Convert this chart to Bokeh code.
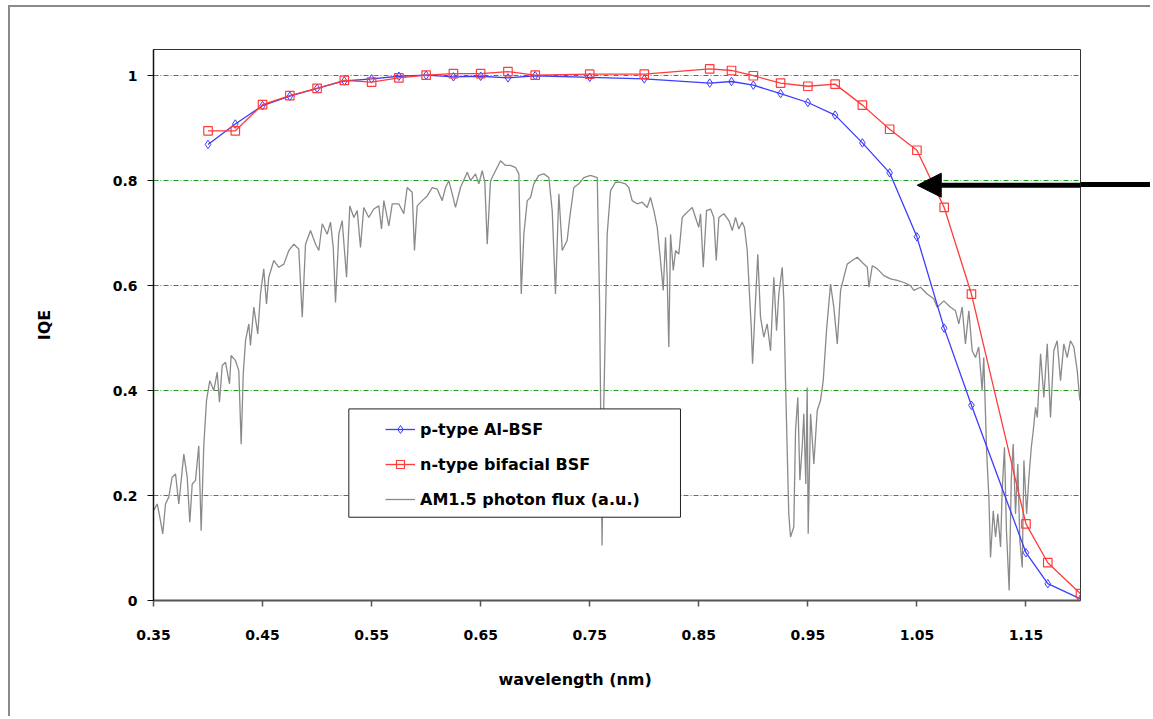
from bokeh.plotting import figure
from bokeh.models import (Range1d, FixedTicker, Legend, LegendItem, BoxAnnotation,
                          Arrow, NormalHead, Title)
from bokeh.embed import file_html
from bokeh.resources import INLINE

# ---------------- data ----------------
iqe_wl = [0.40, 0.425, 0.45, 0.475, 0.50, 0.525, 0.55, 0.575, 0.60, 0.625,
          0.65, 0.675, 0.70, 0.75, 0.80, 0.86, 0.88, 0.90, 0.925, 0.95,
          0.975, 1.00, 1.025, 1.05, 1.075, 1.10, 1.15, 1.17, 1.20]
iqe_p_type = [0.869, 0.908, 0.943, 0.961, 0.976, 0.990, 0.994, 0.999, 1.001, 0.998,
              0.999, 0.996, 1.000, 0.997, 0.994, 0.986, 0.989, 0.982, 0.966, 0.949,
              0.925, 0.872, 0.815, 0.693, 0.519, 0.372, 0.091, 0.032, 0.003]
iqe_n_type = [0.895, 0.895, 0.945, 0.962, 0.976, 0.991, 0.988, 0.996, 1.001, 1.004,
              1.004, 1.008, 1.001, 1.003, 1.003, 1.013, 1.010, 1.000, 0.986, 0.980,
              0.984, 0.944, 0.898, 0.858, 0.749, 0.584, 0.146, 0.072, 0.013]

spec_wl = [
    0.3500, 0.3534, 0.3558, 0.3585, 0.3610, 0.3640, 0.3671, 0.3702, 0.3732, 0.3778,
    0.3809, 0.3833, 0.3855, 0.3885, 0.3915, 0.3937, 0.3961, 0.3986, 0.4016, 0.4053,
    0.4084, 0.4105, 0.4130, 0.4160, 0.4197, 0.4212, 0.4252, 0.4282, 0.4304, 0.4323,
    0.4344, 0.4374, 0.4389, 0.4420, 0.4456, 0.4481, 0.4511, 0.4536, 0.4557, 0.4603,
    0.4649, 0.4695, 0.4741, 0.4787, 0.4832, 0.4864, 0.4894, 0.4940, 0.4986, 0.5016,
    0.5047, 0.5093, 0.5123, 0.5148, 0.5169, 0.5199, 0.5230, 0.5270, 0.5300, 0.5337,
    0.5368, 0.5398, 0.5428, 0.5474, 0.5520, 0.5566, 0.5591, 0.5612, 0.5658, 0.5689,
    0.5749, 0.5795, 0.5826, 0.5872, 0.5893, 0.5918, 0.5964, 0.6010, 0.6056, 0.6101,
    0.6147, 0.6178, 0.6208, 0.6239, 0.6269, 0.6315, 0.6377, 0.6407, 0.6453, 0.6483,
    0.6514, 0.6538, 0.6560, 0.6590, 0.6636, 0.6682, 0.6728, 0.6774, 0.6820, 0.6850,
    0.6872, 0.6896, 0.6927, 0.6957, 0.6987, 0.7033, 0.7079, 0.7125, 0.7156, 0.7186,
    0.7217, 0.7248, 0.7293, 0.7317, 0.7354, 0.7400, 0.7446, 0.7507, 0.7569, 0.7590,
    0.7613, 0.7629, 0.7660, 0.7691, 0.7736, 0.7782, 0.7828, 0.7858, 0.7889, 0.7935,
    0.7981, 0.8027, 0.8057, 0.8088, 0.8119, 0.8149, 0.8174, 0.8195, 0.8210, 0.8225,
    0.8241, 0.8266, 0.8287, 0.8317, 0.8348, 0.8379, 0.8409, 0.8440, 0.8470, 0.8500,
    0.8516, 0.8541, 0.8571, 0.8608, 0.8638, 0.8660, 0.8684, 0.8730, 0.8776, 0.8807,
    0.8837, 0.8867, 0.8898, 0.8919, 0.8944, 0.8968, 0.8981, 0.8993, 0.9020, 0.9041,
    0.9066, 0.9096, 0.9127, 0.9158, 0.9188, 0.9213, 0.9234, 0.9265, 0.9280, 0.9295,
    0.9325, 0.9341, 0.9371, 0.9387, 0.9408, 0.9427, 0.9448, 0.9463, 0.9481, 0.9494,
    0.9503, 0.9525, 0.9555, 0.9586, 0.9616, 0.9641, 0.9671, 0.9708, 0.9738, 0.9770,
    0.9800, 0.9830, 0.9861, 0.9907, 0.9953, 0.9999, 1.0045, 1.0060, 1.0091, 1.0137,
    1.0197, 1.0259, 1.0320, 1.0380, 1.0441, 1.0472, 1.0533, 1.0594, 1.0655, 1.0686,
    1.0747, 1.0808, 1.0854, 1.0884, 1.0915, 1.0945, 1.0976, 1.1007, 1.1037, 1.1067,
    1.1098, 1.1113, 1.1139, 1.1160, 1.1175, 1.1200, 1.1221, 1.1242, 1.1267, 1.1282,
    1.1303, 1.1321, 1.1346, 1.1365, 1.1383, 1.1404, 1.1425, 1.1444, 1.1466, 1.1481,
    1.1506, 1.1527, 1.1549, 1.1567, 1.1588, 1.1604, 1.1634, 1.1664, 1.1695, 1.1725,
    1.1755, 1.1786, 1.1817, 1.1847, 1.1878, 1.1908, 1.1939, 1.1970, 1.1994]
spec_flux = [
    0.171, 0.184, 0.159, 0.127, 0.184, 0.197, 0.235, 0.241, 0.184, 0.279,
    0.235, 0.149, 0.222, 0.229, 0.295, 0.133, 0.295, 0.381, 0.419, 0.400,
    0.435, 0.378, 0.448, 0.454, 0.413, 0.467, 0.457, 0.438, 0.298, 0.432,
    0.495, 0.527, 0.486, 0.559, 0.508, 0.584, 0.632, 0.565, 0.616, 0.648,
    0.635, 0.641, 0.667, 0.679, 0.670, 0.540, 0.679, 0.705, 0.679, 0.667,
    0.718, 0.698, 0.721, 0.673, 0.568, 0.698, 0.724, 0.616, 0.752, 0.730,
    0.743, 0.673, 0.749, 0.730, 0.746, 0.752, 0.708, 0.762, 0.714, 0.756,
    0.756, 0.737, 0.787, 0.778, 0.667, 0.752, 0.762, 0.771, 0.787, 0.784,
    0.762, 0.787, 0.800, 0.775, 0.749, 0.787, 0.816, 0.800, 0.813, 0.794,
    0.819, 0.797, 0.679, 0.800, 0.819, 0.838, 0.829, 0.829, 0.825, 0.813,
    0.584, 0.698, 0.762, 0.768, 0.794, 0.810, 0.813, 0.806, 0.743, 0.584,
    0.775, 0.667, 0.686, 0.730, 0.787, 0.794, 0.806, 0.810, 0.806, 0.571,
    0.105, 0.375, 0.698, 0.781, 0.797, 0.797, 0.794, 0.787, 0.762, 0.756,
    0.759, 0.749, 0.768, 0.743, 0.711, 0.648, 0.591, 0.692, 0.616, 0.483,
    0.698, 0.629, 0.667, 0.660, 0.730, 0.737, 0.743, 0.749, 0.730, 0.711,
    0.737, 0.635, 0.743, 0.746, 0.730, 0.648, 0.730, 0.737, 0.724, 0.705,
    0.730, 0.708, 0.721, 0.711, 0.667, 0.571, 0.521, 0.451, 0.571, 0.660,
    0.540, 0.502, 0.527, 0.476, 0.616, 0.514, 0.584, 0.635, 0.571, 0.419,
    0.165, 0.121, 0.140, 0.324, 0.387, 0.229, 0.292, 0.356, 0.222, 0.406,
    0.127, 0.356, 0.260, 0.362, 0.381, 0.419, 0.514, 0.603, 0.559, 0.489,
    0.591, 0.616, 0.641, 0.648, 0.654, 0.644, 0.635, 0.597, 0.638, 0.632,
    0.619, 0.613, 0.610, 0.606, 0.600, 0.591, 0.597, 0.584, 0.575, 0.559,
    0.571, 0.559, 0.552, 0.527, 0.559, 0.489, 0.552, 0.476, 0.463, 0.483,
    0.400, 0.463, 0.286, 0.197, 0.082, 0.171, 0.121, 0.165, 0.102, 0.210,
    0.292, 0.133, 0.019, 0.229, 0.298, 0.165, 0.260, 0.114, 0.063, 0.267,
    0.165, 0.235, 0.292, 0.324, 0.368, 0.349, 0.470, 0.387, 0.489, 0.349,
    0.476, 0.495, 0.419, 0.489, 0.463, 0.495, 0.483, 0.438, 0.381]

x_ticks = [0.35, 0.45, 0.55, 0.65, 0.75, 0.85, 0.95, 1.05, 1.15]
x_tick_labels = ["0.35", "0.45", "0.55", "0.65", "0.75", "0.85", "0.95", "1.05", "1.15"]
y_ticks = [0, 0.2, 0.4, 0.6, 0.8, 1.0]
y_tick_labels = ["0", "0.2", "0.4", "0.6", "0.8", "1"]

series_names = ["p-type Al-BSF", "n-type bifacial BSF", "AM1.5 photon flux (a.u.)"]

# ---------------- figure ----------------
FONT = "DejaVu Sans"
p = figure(width=1142, height=711, output_backend="svg", toolbar_location=None,
           x_range=Range1d(0.35, 1.2), y_range=Range1d(0, 1.05),
           min_border_left=143, min_border_right=72, min_border_top=42,
           min_border_bottom=118)
p.margin = (5, 0, 0, 8)
# outer chart-area border (left/top visible) and the tail of the pointer arrow
# that runs past the plot frame to the window edge
p.styles = {
    "border-left": "2px solid #8a8a8a",
    "border-top": "2px solid #8a8a8a",
    "background": "linear-gradient(#000, #000) no-repeat 1068px 175px / 74px 5px, #ffffff",
}
p.border_fill_alpha = 0
p.outline_line_color = "#333333"
p.outline_line_width = 1
p.background_fill_color = "white"

# axes
for ax in (p.xaxis[0], p.yaxis[0]):
    ax.minor_tick_line_color = None
    ax.major_tick_in = 0
    ax.major_tick_out = 6
    ax.major_label_text_font = FONT
    ax.major_label_text_font_style = "bold"
    ax.major_label_text_font_size = "14px"
    ax.major_label_text_color = "black"
    ax.axis_label_text_font = FONT
    ax.axis_label_text_font_style = "bold"
    ax.axis_label_text_font_size = "16px"
    ax.axis_label_text_color = "black"

p.xaxis.ticker = FixedTicker(ticks=x_ticks)
p.xaxis.major_label_overrides = dict(zip(x_ticks, x_tick_labels))
p.xaxis.axis_line_color = "#555555"
p.xaxis.axis_line_width = 2
p.xaxis.major_tick_line_color = "#555555"
p.xaxis.major_tick_line_width = 1.5
p.xaxis.major_label_standoff = 23

p.yaxis.ticker = FixedTicker(ticks=y_ticks)
p.yaxis.major_label_overrides = dict(zip(y_ticks, y_tick_labels))
p.yaxis.axis_line_color = "#111111"
p.yaxis.axis_line_width = 1.5
p.yaxis.major_tick_line_color = "#111111"
p.yaxis.major_label_standoff = 10
p.yaxis.axis_label = "IQE"
p.yaxis.axis_label_standoff = 56

# x-axis title, set left of centre as in the original
p.add_layout(Title(text="wavelength (nm)", align="left", offset=345, vertical_align="top",
                   standoff=54, text_font=FONT, text_font_style="bold",
                   text_font_size="16px", text_color="black"), "below")

# grid
p.xgrid.grid_line_color = None
p.ygrid.ticker = FixedTicker(ticks=y_ticks)
p.ygrid.grid_line_color = "#1f9b1f"
p.ygrid.grid_line_width = 1
p.ygrid.grid_line_dash = "5 2 1 2"

# series
blue = "#3c3cff"
red = "#ff3b3b"
spec_r = p.line(spec_wl, spec_flux, line_color="#8a8a8a", line_width=1.3)
p_line = p.line(iqe_wl, iqe_p_type, line_color=blue, line_width=1.3)
p_pts = p.scatter(iqe_wl, iqe_p_type, marker="diamond", size=8.5,
                  line_color=blue, fill_color=None, line_width=1)
n_line = p.line(iqe_wl, iqe_n_type, line_color=red, line_width=1.3)
n_pts = p.scatter(iqe_wl, iqe_n_type, marker="square", size=8.5,
                  line_color=red, fill_color=None, line_width=1.2)

# legend frame (opaque white box) and legend
legend_box = BoxAnnotation(left=0.5291, right=0.8332, bottom=0.1587, top=0.3651,
                           fill_color="white", fill_alpha=1.0,
                           line_color="#222222", line_alpha=1.0, line_width=1)
p.add_layout(legend_box)

legend = Legend(items=[LegendItem(label=series_names[0], renderers=[p_line, p_pts]),
                       LegendItem(label=series_names[1], renderers=[n_line, n_pts]),
                       LegendItem(label=series_names[2], renderers=[spec_r])],
                location=(232, 91), orientation="vertical", padding=0, margin=0,
                spacing=15, glyph_width=30, glyph_height=20, label_height=20,
                label_standoff=5, background_fill_alpha=0, border_line_alpha=0,
                label_text_font=FONT, label_text_font_style="bold",
                label_text_font_size="16px", label_text_color="black")
p.add_layout(legend)

# pointer arrow
arrow_tail_x, arrow_tip_x, arrow_y = 1.2637, 1.0503, 0.7914
p.add_layout(Arrow(x_start=arrow_tail_x, y_start=arrow_y, x_end=arrow_tip_x, y_end=arrow_y,
                   line_color="black", line_width=5,
                   end=NormalHead(size=24, fill_color="black", line_color="black")))

open("out.html", "w").write(file_html(p, INLINE))
